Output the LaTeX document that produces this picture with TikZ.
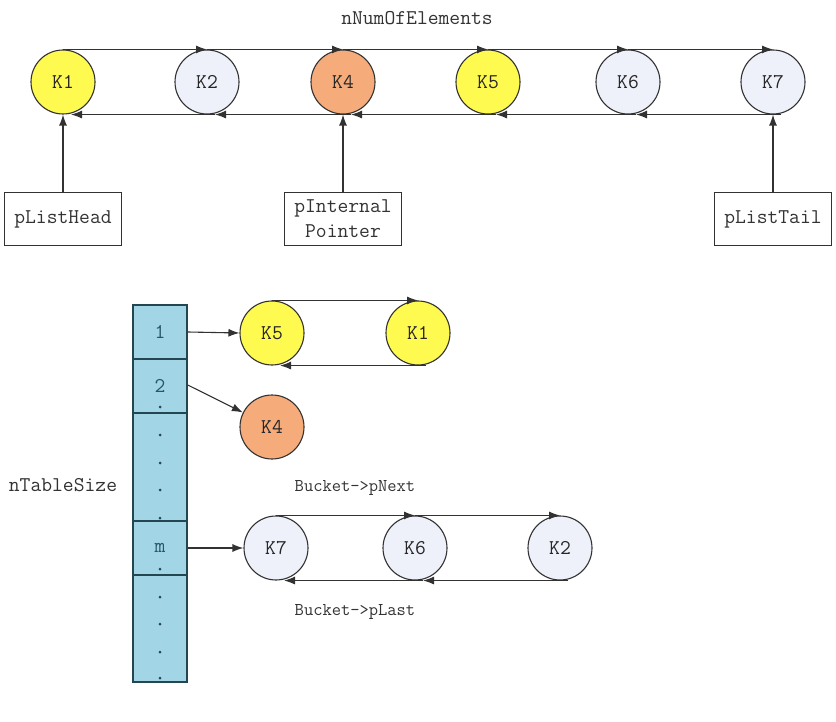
\documentclass[tikz,border=0pt]{standalone}
\usepackage{fontspec}
\usetikzlibrary{arrows.meta}
\definecolor{kyellow}{RGB}{255,250,80}
\definecolor{korange}{RGB}{245,172,122}
\definecolor{kgray}{RGB}{238,240,250}
\definecolor{cellblue}{RGB}{162,214,230}
\definecolor{celledge}{RGB}{35,70,80}
\definecolor{celltext}{RGB}{40,85,105}
\definecolor{linegray}{RGB}{50,50,50}

\begin{document}
\begin{tikzpicture}[x=1pt, y=-1pt, font=\ttfamily\fontsize{21}{25}\selectfont,
    key/.style={circle, draw=linegray, line width=1.1pt, minimum size=64pt, inner sep=0pt, text=black!85},
    link/.style={draw=linegray, line width=1.1pt, -{Latex[length=11pt,width=8pt]}},
    ptr/.style={draw=linegray, line width=1.1pt, minimum width=117pt, minimum height=53pt, inner sep=2pt, align=center, text=black!80},
    cell/.style={draw=celledge, line width=1.5pt, fill=cellblue, minimum width=54pt, inner sep=0pt, text=celltext},
    note/.style={font=\ttfamily\fontsize{18}{20}\selectfont, text=black!80}]
        \useasboundingbox (0,0) rectangle (836,722);
        % global list
        \node[text=black!80] (title) at (417,18) {nNumOfElements};
        \node[key, fill=kyellow] (K1) at (63,82) {K1};
        \node[key, fill=kgray] (K2) at (207,82) {K2};
        \node[key, fill=korange] (K4) at (343,82) {K4};
        \node[key, fill=kyellow] (K5) at (488,82) {K5};
        \node[key, fill=kgray] (K6) at (628,82) {K6};
        \node[key, fill=kgray] (K7) at (773,82) {K7};
        \foreach \a/\b in {K1/K2,K2/K4,K4/K5,K5/K6,K6/K7} {
          \draw[link] (\a.north) -- (\b.north);
          \draw[link] ([xshift=8pt]\b.south) -- ([xshift=8pt]\a.south);
        }
        \node[ptr] (head) at (63,219) {pListHead};
        \node[ptr] (internal) at (343,219) {pInternal\\Pointer};
        \node[ptr] (tail) at (773,219) {pListTail};
        \draw[link] (head) -- (K1);
        \draw[link] (internal) -- (K4);
        \draw[link] (tail) -- (K7);
        % hash table
        \node[text=black!80] (size) at (63,485) {nTableSize};
        \node[cell, minimum height=54pt] (c1) at (160,332) {1};
        \node[cell, minimum height=54pt] (c2) at (160,386) {2};
        \node[cell, minimum height=108pt] (cdots) at (160,467) {};
        \node[cell, minimum height=54pt] (cm) at (160,548) {m};
        \node[cell, minimum height=107pt] (crest) at (160,628.5) {};
        \foreach \y in {407,435,463,490,518,569,597,624,652,678}
          \fill[celledge] (160,\y) circle (1.5pt);
        % buckets
        \node[key, fill=kyellow] (B5) at (272,333) {K5};
        \node[key, fill=kyellow] (B1) at (418,333) {K1};
        \node[key, fill=korange] (B4) at (272,427) {K4};
        \node[key, fill=kgray] (B7) at (276,548) {K7};
        \node[key, fill=kgray] (B6) at (415,548) {K6};
        \node[key, fill=kgray] (B2) at (560,548) {K2};
        \draw[link] (c1.east) -- (B5.west);
        \draw[link] (c2.east |- 0,385) -- (B4);
        \draw[link] (cm.east) -- (B7.west);
        \foreach \a/\b in {B5/B1,B7/B6,B6/B2} {
          \draw[link] (\a.north) -- (\b.north);
          \draw[link] ([xshift=8pt]\b.south) -- ([xshift=8pt]\a.south);
        }
        \node[note] (pnext) at (355,488) {Bucket->pNext};
        \node[note] (plast) at (355,612) {Bucket->pLast};
      \end{tikzpicture}
\end{document}
